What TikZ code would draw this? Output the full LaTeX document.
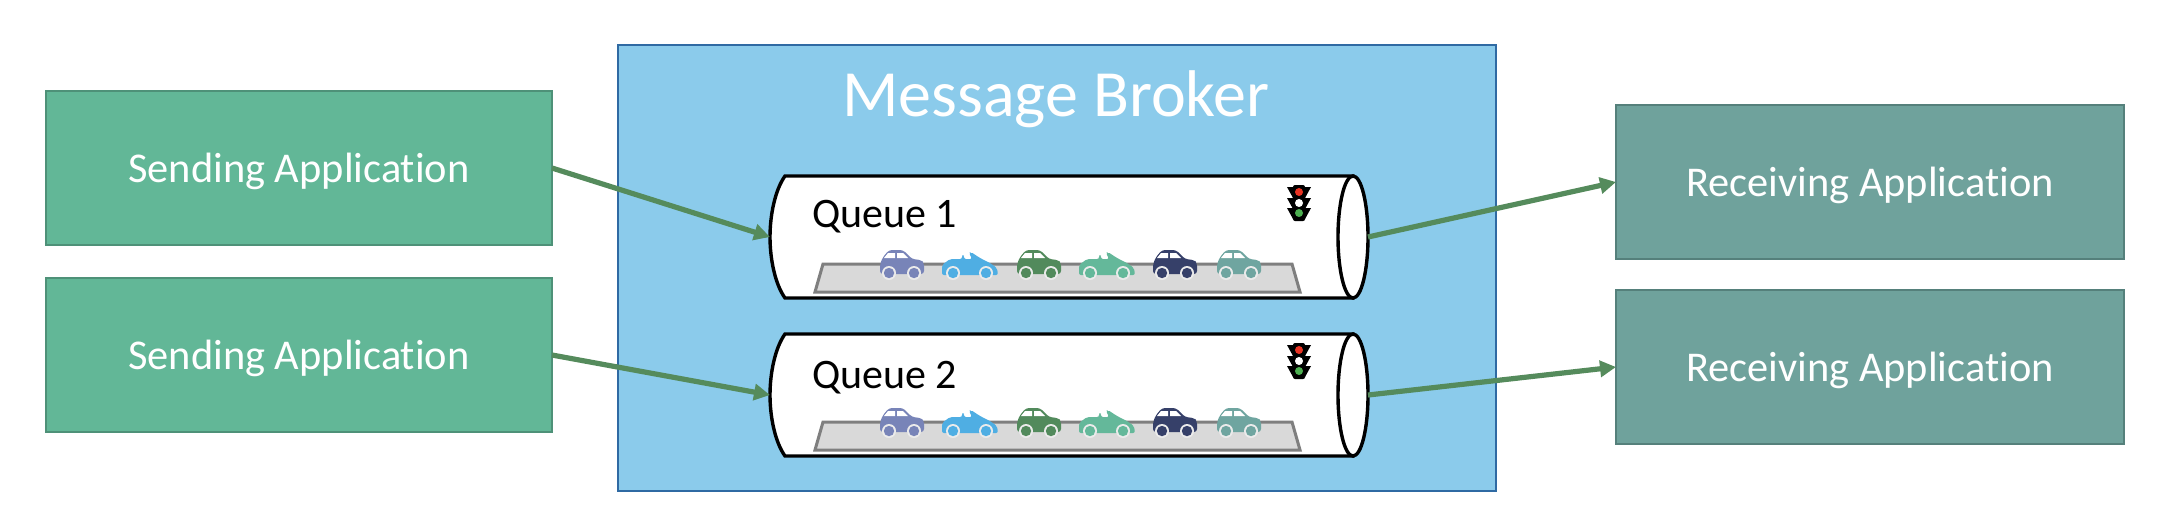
\documentclass[tikz,border=0pt]{standalone}
\usepackage{fontspec}
\setmainfont[Ligatures=CommonOff]{Carlito}
\usetikzlibrary{arrows.meta}
\definecolor{sendfill}{HTML}{62B797}
\definecolor{sendline}{HTML}{4E9178}
\definecolor{recvfill}{HTML}{6FA29C}
\definecolor{recvline}{HTML}{55807B}
\definecolor{brokerfill}{HTML}{8BCBEB}
\definecolor{brokerline}{HTML}{2F6AA3}
\definecolor{linkgreen}{HTML}{558B5C}
\definecolor{roadfill}{HTML}{D9D9D9}
\definecolor{roadline}{HTML}{7F7F7F}
\definecolor{lampred}{HTML}{EA3323}
\definecolor{lampgreen}{HTML}{4CAF50}
\definecolor{wheelring}{HTML}{EBEBEB}
\definecolor{carA}{HTML}{7884B8}
\definecolor{carB}{HTML}{4FAEE3}
\definecolor{carC}{HTML}{528A5C}
\definecolor{carD}{HTML}{64B89A}
\definecolor{carE}{HTML}{364069}
\definecolor{carF}{HTML}{6FA5A0}
\newcommand{\sedancar}[2]{
    \begin{scope}[shift={(#1,0)}]
        \fill[#2, rounded corners=1.5pt] (-21, -1) -- (-21, -11) -- (-18, -18) -- (-12, -25) -- (2, -25) -- (11, -16) -- (20, -15) -- (23, -12) -- (23, -1) -- cycle;
        \fill[white] (-17, -17) -- (-13, -22) -- (-6, -22) -- (-6, -17) -- cycle;
        \fill[white] (-4, -22) -- (2, -22) -- (7, -17) -- (-4, -17) -- cycle;
        \fill[wheelring] (-12, -2) circle (7) (13, -2) circle (7);
        \fill[#2] (-12, -2) circle (5.2) (13, -2) circle (5.2);
    \end{scope}
}
\newcommand{\convertcar}[2]{
    \begin{scope}[shift={(#1,0)}]
        \fill[#2, rounded corners=1pt] (-28, 0) -- (-28, -10) -- (-20, -16) -- (-8, -16) -- (-8, -20) -- (-6, -20) -- (-6, -16) -- (2, -16) -- (-1, -22) -- (1, -23) -- (10, -17) -- (20, -12) -- (27, -7) -- (28, 0) -- cycle;
        \fill[wheelring] (-17, -2) circle (7) (16, -2) circle (7);
        \fill[#2] (-17, -2) circle (5.2) (16, -2) circle (5.2);
    \end{scope}
}
\newcommand{\queuelane}[2]{
    \begin{scope}[shift={(0,#1)}]
        \draw[tube] (785, 176) -- (1353, 176) -- (1353, 298) -- (785, 298) .. controls (775, 284) and (770, 259) .. (770, 237) .. controls (770, 215) and (775, 190) .. (785, 176) -- cycle;
        \draw[tube] (1353, 237) ellipse (15 and 61);
        \coordinate (in#2) at (770, 237);
        \coordinate (out#2) at (1368, 237);
        \draw[roadline, fill=roadfill, line width=1.5pt] (823, 264) -- (1292, 264) -- (1300, 292) -- (815, 292) -- cycle;
        \begin{scope}[shift={(0,275)}]
            \sedancar{901}{carA}
            \convertcar{970}{carB}
            \sedancar{1038}{carC}
            \convertcar{1107}{carD}
            \sedancar{1174}{carE}
            \sedancar{1238}{carF}
        \end{scope}
        \foreach \flap in {187, 198, 208} {
            \fill[black] (1287, \flap) -- (1293, \flap) -- (1293, \flap + 11) -- cycle;
            \fill[black] (1311, \flap) -- (1305, \flap) -- (1305, \flap + 11) -- cycle;
        }
        \fill[black, rounded corners=1pt] (1293, 185) rectangle (1305, 221);
        \fill[lampred] (1299, 192) circle (4);
        \fill[white] (1299, 203) circle (4);
        \fill[lampgreen] (1299, 213) circle (4);
    \end{scope}
}
\begin{document}
\begin{tikzpicture}[
        x = .5pt,
        y = -.5pt,
        sendbox/.style = {draw=sendline, fill=sendfill, line width=1.3pt, minimum width=253pt, minimum height=77pt, text=white, text height=18.5pt, text depth=4pt, font=\fontsize{21.2}{25}\selectfont, outer sep=0pt},
        recvbox/.style = {draw=recvline, fill=recvfill, line width=1.3pt, minimum width=254pt, minimum height=77pt, text=white, text height=18.5pt, text depth=4pt, font=\fontsize{21.2}{25}\selectfont, outer sep=0pt},
        tube/.style = {draw=black, fill=white, line width=1.7pt},
        queuename/.style = {anchor=west, font=\fontsize{21}{25}\selectfont},
        link/.style = {linkgreen, line width=2.6pt, -{Triangle[length=8pt, width=8pt]}}
    ]
        \useasboundingbox (0, 0) rectangle (2162, 516);
        \node[draw=brokerline, fill=brokerfill, line width=1.3pt, minimum width=439pt, minimum height=223pt, outer sep=0pt] (broker) at (1057, 268) {};
        \node[text=white, font=\fontsize{33}{38}\selectfont] (brokername) at (1056, 99) {Message Broker};
        \node[sendbox] (send1) at (299, 168) {Sending Application};
        \node[sendbox] (send2) at (299, 355) {Sending Application};
        \node[recvbox] (recv1) at (1870, 182) {Receiving Application};
        \node[recvbox] (recv2) at (1870, 367) {Receiving Application};
        \queuelane{0}{one}
        \queuelane{158}{two}
        \node[queuename] (name1) at (805, 217) {Queue 1};
        \node[queuename] (name2) at (805, 378) {Queue 2};
        \draw[link] (send1.east) -- (inone);
        \draw[link] (send2.east) -- (intwo);
        \draw[link] (outone) -- (recv1.west);
        \draw[link] (outtwo) -- (recv2.west);
    \end{tikzpicture}
\end{document}
